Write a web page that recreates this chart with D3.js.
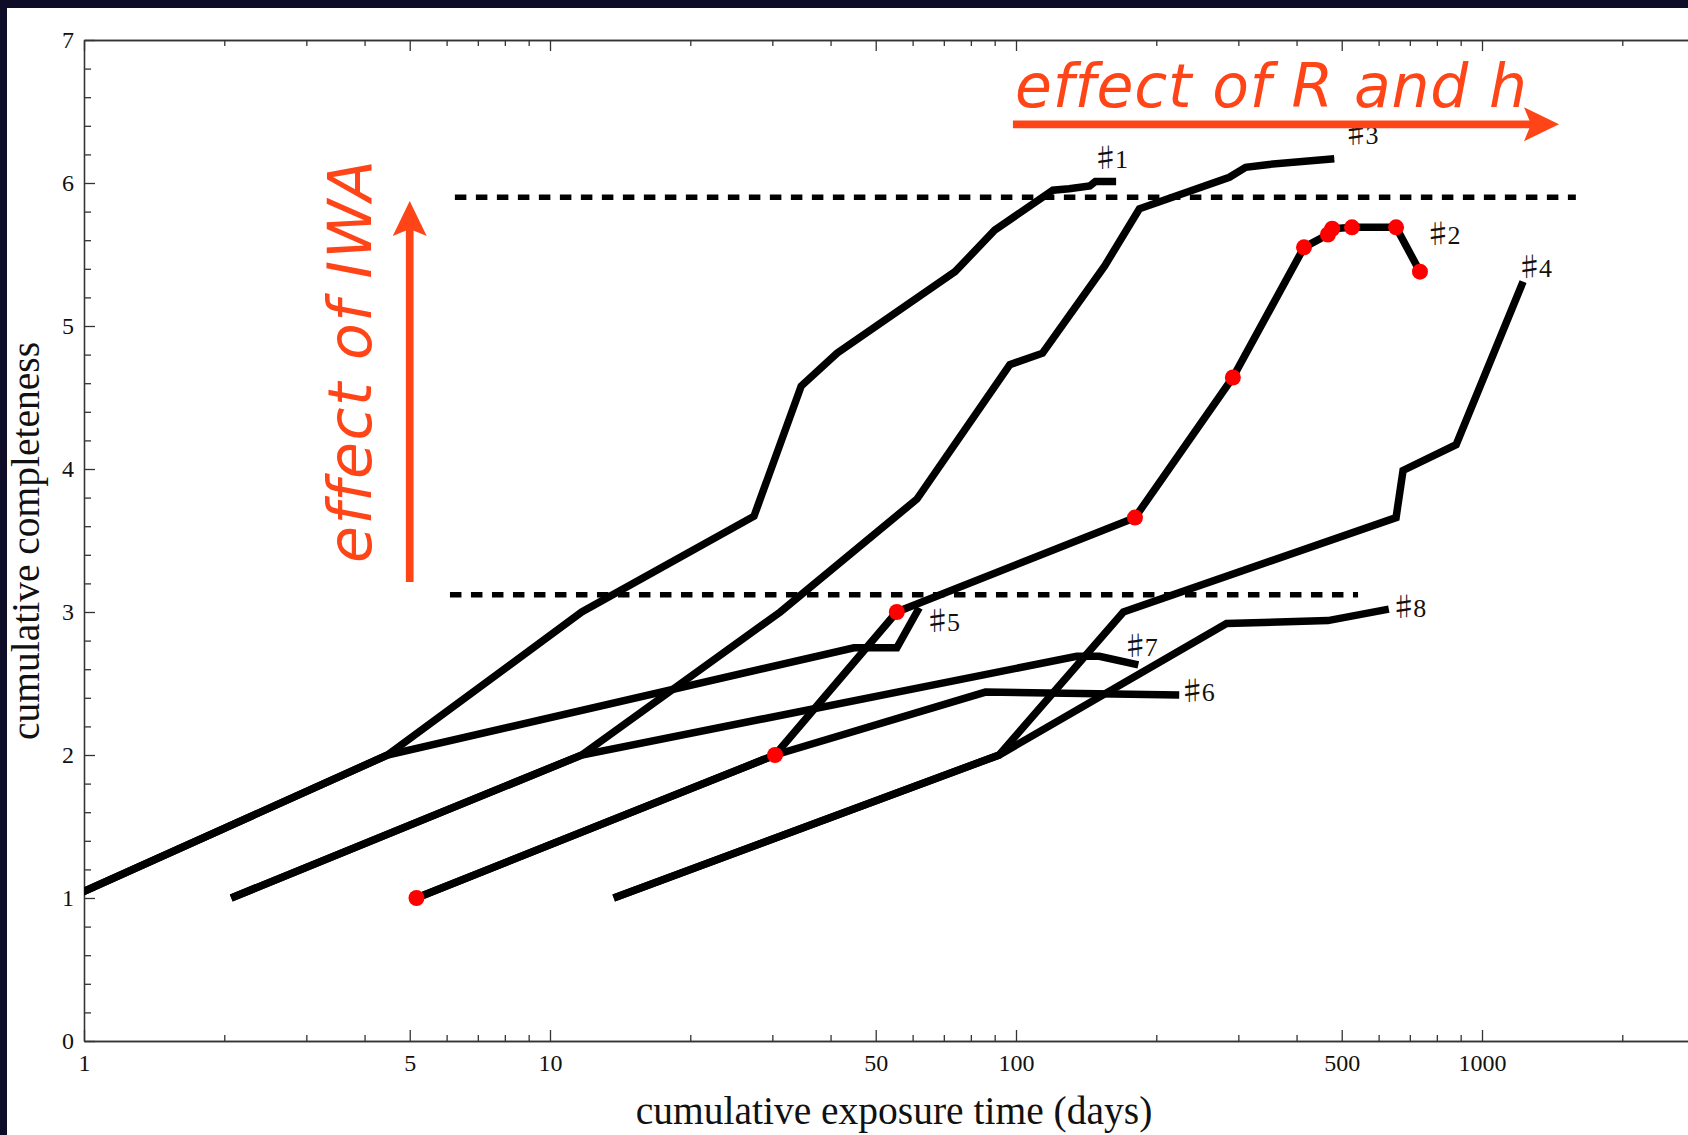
<!DOCTYPE html>
<html>
<head>
<meta charset="utf-8">
<script src="https://cdn.jsdelivr.net/npm/d3@7"></script>
<style>
  body { margin: 0; background: #fff; }
  svg { display: block; }
</style>
</head>
<body>
<svg id="chart"></svg>
<script>
// cumulative exposure time (days) vs cumulative completeness
const series1 = [[0.93, 1.0], [4.48, 2.0], [11.7, 3.0], [27.4, 3.67], [34.6, 4.58], [41.3, 4.81], [74, 5.38], [90, 5.67], [120, 5.95], [130, 5.96], [144, 5.98], [148, 6.01], [164, 6.01]];
const series2 = [[5.17, 1.0], [30.4, 2.0], [55.5, 3.0], [180, 3.66], [292, 4.64], [415, 5.55], [467, 5.64], [477, 5.68], [526, 5.69], [654, 5.69], [736, 5.38]];
const series3 = [[2.07, 1.0], [11.7, 2.0], [31.2, 3.0], [61.3, 3.79], [97, 4.73], [114, 4.81], [155, 5.42], [184, 5.82], [287, 6.04], [311, 6.11], [349, 6.13], [482, 6.17]];
const series4 = [[13.7, 1.0], [92, 2.0], [170, 3.0], [654, 3.66], [677, 3.99], [880, 4.17], [1225, 5.31]];
const series5 = [[0.93, 1.0], [4.48, 2.0], [44.9, 2.75], [55.5, 2.75], [62, 3.03]];
const series6 = [[5.17, 1.0], [30.4, 2.0], [86, 2.44], [224, 2.42]];
const series7 = [[2.07, 1.0], [11.7, 2.0], [135, 2.69], [151, 2.69], [183, 2.63]];
const series8 = [[13.7, 1.0], [92, 2.0], [283, 2.92], [467, 2.94], [631, 3.02]];

const seriesLabels = ['1', '2', '3', '4', '5', '6', '7', '8'];
// where each label sits, in data units (left edge, middle)
const labelAt = [[148.5, 6.17], [768, 5.64], [512, 6.34], [1206, 5.41], [64.7, 2.93], [228, 2.44], [172, 2.755], [648, 3.03]];

// the red markers are the points of series 2
const markedSeries = series2;

// dashed reference levels: [level, from, to]
const levels = [[5.9, 6.25, 1590], [3.12, 6.1, 542]];

const xTickLabels = [1, 5, 10, 50, 100, 500, 1000];
const yTickLabels = [0, 1, 2, 3, 4, 5, 6, 7];

// annotation arrows, in data units
const arrowRh = { from: [98.5, 6.41], to: [1463, 6.41], text: 'effect of R and h', textAt: [99.5, 6.53] };
const arrowIWA = { from: [5, 3.21], to: [5, 5.874], text: 'effect of IWA', textAt: [4.13, 3.343] };

const W = 1688, H = 1135;
const navy = '#0e0c26';
const accent = '#ff4517';
const serif = '"Liberation Serif", "Times New Roman", "DejaVu Serif", serif';

const x = d3.scaleLog()
  .domain([1, 3000])
  .range([84, 84 + 466 * Math.log10(3000)]);
const y = d3.scaleLinear()
  .domain([0, 7])
  .range([1041, 40]);

const svg = d3.select('#chart').attr('width', W).attr('height', H);

svg.append('rect').attr('width', W).attr('height', H).attr('fill', '#fff');
svg.append('rect').attr('width', W).attr('height', 8).attr('fill', navy);
svg.append('rect').attr('width', 7).attr('height', H).attr('fill', navy);

svg.append('defs').append('clipPath').attr('id', 'plotClip')
  .append('rect')
  .attr('x', x(1)).attr('y', y(7))
  .attr('width', W - x(1)).attr('height', y(0) - y(7));

// axes, ticks point inwards
const minorX = x.ticks().filter(t => !xTickLabels.includes(t));
const minorY = d3.range(1, 35).map(i => i / 5).filter(v => !Number.isInteger(v));

function styleAxis(g) {
  g.selectAll('path, line').attr('stroke', '#333').attr('stroke-width', 1.3);
  g.selectAll('text').attr('font-family', serif).attr('font-size', 24).attr('fill', '#111');
}

svg.append('g')
  .attr('transform', `translate(0, ${y(0)})`)
  .call(d3.axisBottom(x).tickValues(xTickLabels).tickSize(-11).tickSizeOuter(0).tickPadding(13).tickFormat(d3.format('d')))
  .call(styleAxis);
svg.append('g')
  .attr('transform', `translate(0, ${y(0)})`)
  .call(d3.axisBottom(x).tickValues(minorX).tickSize(-6).tickSizeOuter(0).tickFormat(''))
  .call(styleAxis);
svg.append('g')
  .attr('transform', `translate(0, ${y(7)})`)
  .call(d3.axisTop(x).tickValues(xTickLabels).tickSize(-11).tickSizeOuter(0).tickFormat(''))
  .call(styleAxis);
svg.append('g')
  .attr('transform', `translate(0, ${y(7)})`)
  .call(d3.axisTop(x).tickValues(minorX).tickSize(-6).tickSizeOuter(0).tickFormat(''))
  .call(styleAxis);
svg.append('g')
  .attr('transform', `translate(${x(1)}, 0)`)
  .call(d3.axisLeft(y).tickValues(yTickLabels).tickSize(-11).tickSizeOuter(0).tickPadding(10).tickFormat(d3.format('d')))
  .call(styleAxis);
svg.append('g')
  .attr('transform', `translate(${x(1)}, 0)`)
  .call(d3.axisLeft(y).tickValues(minorY).tickSize(-7).tickSizeOuter(0).tickFormat(''))
  .call(styleAxis);

// axis titles
svg.append('text')
  .attr('x', 894).attr('y', 1124)
  .attr('text-anchor', 'middle')
  .attr('font-family', serif).attr('font-size', 39.5).attr('fill', '#111')
  .text('cumulative exposure time (days)');
svg.append('text')
  .attr('transform', 'translate(39, 541) rotate(-90)')
  .attr('text-anchor', 'middle')
  .attr('font-family', serif).attr('font-size', 39.5).attr('fill', '#111')
  .text('cumulative completeness');

// curves
const line = d3.line().x(d => x(d[0])).y(d => y(d[1]));
const plot = svg.append('g').attr('clip-path', 'url(#plotClip)');
const allSeries = [series1, series2, series3, series4, series5, series6, series7, series8];

plot.selectAll('path.curve')
  .data(allSeries)
  .join('path')
  .attr('class', 'curve')
  .attr('d', line)
  .attr('fill', 'none')
  .attr('stroke', '#000')
  .attr('stroke-width', 7.5)
  .attr('stroke-linejoin', 'miter')
  .attr('stroke-linecap', 'butt');

plot.selectAll('line.level')
  .data(levels)
  .join('line')
  .attr('class', 'level')
  .attr('x1', d => x(d[1])).attr('x2', d => x(d[2]))
  .attr('y1', d => y(d[0])).attr('y2', d => y(d[0]))
  .attr('stroke', '#000')
  .attr('stroke-width', 5.5)
  .attr('stroke-dasharray', '11.5 9.5');

plot.selectAll('circle.mark')
  .data(markedSeries)
  .join('circle')
  .attr('class', 'mark')
  .attr('cx', d => x(d[0]))
  .attr('cy', d => y(d[1]))
  .attr('r', 8)
  .attr('fill', '#ff0000');

// curve tags: a sharp sign then the number
const tags = svg.selectAll('text.tag')
  .data(seriesLabels)
  .join('text')
  .attr('class', 'tag')
  .attr('x', (d, i) => x(labelAt[i][0]))
  .attr('y', (d, i) => y(labelAt[i][1]))
  .attr('dx', -4)
  .attr('dy', '0.36em')
  .attr('font-size', 26)
  .attr('fill', '#111');
tags.append('tspan')
  .attr('font-family', '"Noto Sans CJK JP", "DejaVu Sans", sans-serif')
  .attr('font-size', 27)
  .attr('letter-spacing', -4)
  .text('\u266F');
tags.append('tspan')
  .attr('font-family', serif)
  .text(d => d);

// orange annotations
function drawArrow(a) {
  const x0 = x(a.from[0]), y0 = y(a.from[1]);
  const x1 = x(a.to[0]), y1 = y(a.to[1]);
  const ang = Math.atan2(y1 - y0, x1 - x0);
  const len = 35, half = 17, notch = 7;
  const rot = (px, py) => [x1 + px * Math.cos(ang) - py * Math.sin(ang), y1 + px * Math.sin(ang) + py * Math.cos(ang)];
  svg.append('line')
    .attr('x1', x0).attr('y1', y0)
    .attr('x2', rot(-len + notch + 2, 0)[0]).attr('y2', rot(-len + notch + 2, 0)[1])
    .attr('stroke', accent).attr('stroke-width', 7.7);
  svg.append('path')
    .attr('d', d3.line()([rot(0, 0), rot(-len, -half), rot(-len + notch, 0), rot(-len, half)]) + 'Z')
    .attr('fill', accent);
}
drawArrow(arrowRh);
drawArrow(arrowIWA);

svg.append('text')
  .attr('x', x(arrowRh.textAt[0])).attr('y', y(arrowRh.textAt[1]))
  .attr('font-family', '"DejaVu Sans", Verdana, sans-serif')
  .attr('font-style', 'italic')
  .attr('font-size', 60)
  .attr('letter-spacing', 0.8)
  .attr('fill', accent)
  .text(arrowRh.text);
svg.append('text')
  .attr('transform', `translate(${x(arrowIWA.textAt[0])}, ${y(arrowIWA.textAt[1])}) rotate(-90)`)
  .attr('font-family', '"DejaVu Sans", Verdana, sans-serif')
  .attr('font-style', 'italic')
  .attr('font-size', 60)
  .attr('letter-spacing', 1.6)
  .attr('fill', accent)
  .text(arrowIWA.text);
</script>
</body>
</html>
